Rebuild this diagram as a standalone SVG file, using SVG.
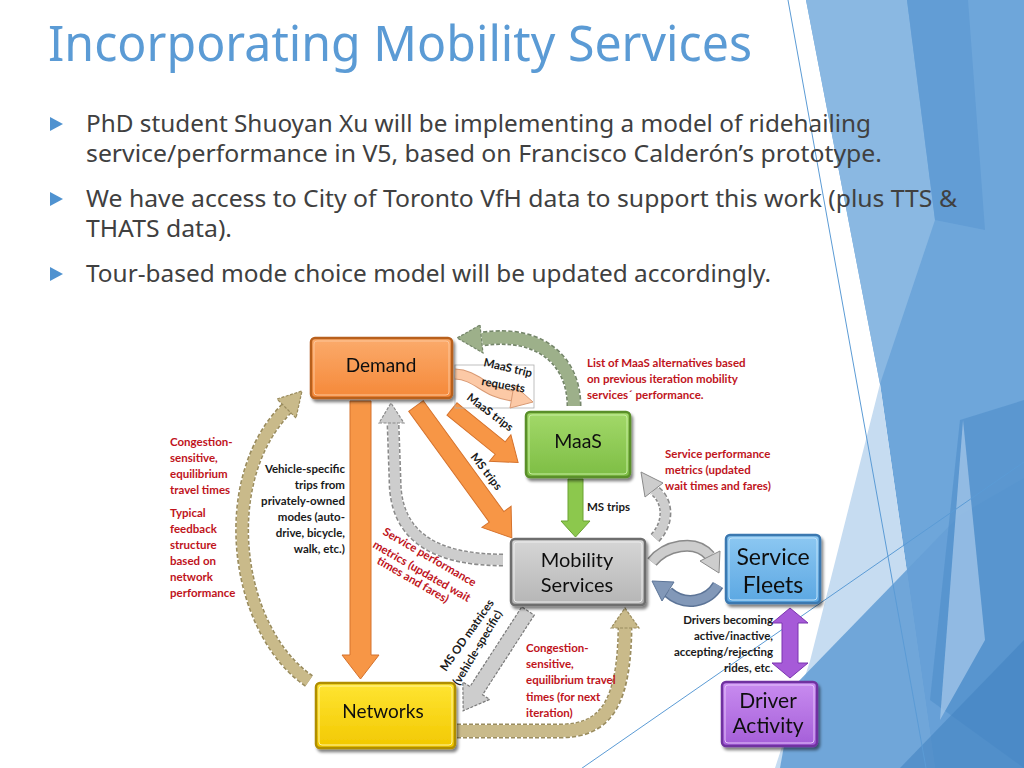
<svg xmlns="http://www.w3.org/2000/svg" width="1024" height="768" viewBox="0 0 1024 768">
<defs>
<style>
.title{font-family:"Noto Sans","Liberation Sans",sans-serif;font-size:50px;fill:#5b9bd5}
.body{font-family:"Noto Sans","Liberation Sans",sans-serif;font-size:23px;fill:#404040}
.box{font-family:Lato,"Liberation Sans",sans-serif;fill:#111;text-anchor:middle}
.lbl{font-family:Lato,"Liberation Sans",sans-serif;font-size:11.5px;font-weight:bold;fill:#1a1a1a}
.red{font-family:Lato,"Liberation Sans",sans-serif;font-size:11.5px;font-weight:bold;fill:#c0141c}
.bullet{fill:#4f92d0}
.thin{stroke:#5b9bd5;stroke-width:1;fill:none}
</style>
<linearGradient id="gOr" x1="0" y1="0" x2="0" y2="1"><stop offset="0" stop-color="#fbab6c"/><stop offset="1" stop-color="#f58838"/></linearGradient>
<linearGradient id="gGr" x1="0" y1="0" x2="0" y2="1"><stop offset="0" stop-color="#a3d96a"/><stop offset="1" stop-color="#7dbd44"/></linearGradient>
<linearGradient id="gGy" x1="0" y1="0" x2="0" y2="1"><stop offset="0" stop-color="#d6d6d6"/><stop offset="1" stop-color="#b5b5b5"/></linearGradient>
<linearGradient id="gBl" x1="0" y1="0" x2="0" y2="1"><stop offset="0" stop-color="#8dc8f2"/><stop offset="1" stop-color="#5ba7e2"/></linearGradient>
<linearGradient id="gYe" x1="0" y1="0" x2="0" y2="1"><stop offset="0" stop-color="#ffe533"/><stop offset="1" stop-color="#f2c800"/></linearGradient>
<linearGradient id="gPu" x1="0" y1="0" x2="0" y2="1"><stop offset="0" stop-color="#c98cf0"/><stop offset="1" stop-color="#a45ed8"/></linearGradient>
<filter id="sh" x="-10%" y="-10%" width="130%" height="140%"><feGaussianBlur in="SourceAlpha" stdDeviation="1.5"/><feOffset dx="2" dy="3"/><feComponentTransfer><feFuncA type="linear" slope="0.5"/></feComponentTransfer><feMerge><feMergeNode/><feMergeNode in="SourceGraphic"/></feMerge></filter>
</defs>

<rect width="1024" height="768" fill="#ffffff"/>

<g id="background">
<polygon points="806,0 1024,0 1024,768 935,768 880,384" fill="#6ea6da"/>
<polygon points="806,0 907,0 935,220 880,384" fill="#8ab8e2"/>
<polygon points="907,0 968,0 985,230 935,220" fill="#629dd5"/>
<polygon points="880,384 935,768 775,768 810,661" fill="#c6dcf1"/>
<polygon points="795,685 960,515 1024,478 1024,768 780,768" fill="#66a0d6" opacity="0.9"/>
<polygon points="960,420 1024,400 1024,768 930,700" fill="#4f8dca" opacity="0.6"/>
<polygon points="963,420 985,640 940,720" fill="#a9cbeb" opacity="0.7"/>
<polygon points="900,768 1024,640 1024,768" fill="#4383c2" opacity="0.6"/>
<line class="thin" x1="788" y1="0" x2="926" y2="768"/>
<line class="thin" x1="575" y1="773" x2="1024" y2="462"/>
</g>

<g id="title">
<text class="title" x="48" y="61" textLength="704" lengthAdjust="spacingAndGlyphs">Incorporating Mobility Services</text>
</g>

<g id="bullets">
<polygon class="bullet" points="50,117 63,124 50,131"/>
<polygon class="bullet" points="50,192 63,199 50,206"/>
<polygon class="bullet" points="50,267 63,274 50,281"/>
<text class="body" x="86" y="132" textLength="785" lengthAdjust="spacingAndGlyphs">PhD student Shuoyan Xu will be implementing a model of ridehailing</text>
<text class="body" x="86" y="162" textLength="796" lengthAdjust="spacingAndGlyphs">service/performance in V5, based on Francisco Calderón’s prototype.</text>
<text class="body" x="86" y="207" textLength="871" lengthAdjust="spacingAndGlyphs">We have access to City of Toronto VfH data to support this work (plus TTS &amp;</text>
<text class="body" x="86" y="237" textLength="146" lengthAdjust="spacingAndGlyphs">THATS data).</text>
<text class="body" x="86" y="282" textLength="685" lengthAdjust="spacingAndGlyphs">Tour-based mode choice model will be updated accordingly.</text>
</g>

<g id="connectors">
<!-- Demand -> Networks (orange vertical) -->
<polygon points="350,401 371,401 371,655 379,655 360.5,679 342,655 350,655" fill="#f79646" stroke="#d5722c" stroke-width="1"/>
<!-- Mobility Services -> Demand (gray curve) -->
<path d="M503 560 C440 560 395 540 395 480 L393 423" fill="none" stroke="#8a8a8a" stroke-width="13" stroke-dasharray="4 2"/>
<path d="M503 560 C440 560 395 540 395 480 L393 423" fill="none" stroke="#cdcdcd" stroke-width="10"/>
<polygon points="379,423 404,423 391,403" fill="#cdcdcd" stroke="#8a8a8a" stroke-width="1.2" stroke-dasharray="3 1.5"/>
<!-- Demand -> Mobility Services (MS trips orange) -->
<polygon transform="translate(416,406) rotate(54)" points="0,-9 137,-9 137,-18 163,0 137,18 137,9 0,9" fill="#f79646" stroke="#d5722c" stroke-width="1"/>
<!-- Demand -> MaaS (MaaS trips orange) -->
<polygon transform="translate(452,409) rotate(39)" points="0,-8 62,-8 62,-17 85,0 62,17 62,8 0,8" fill="#f79646" stroke="#d5722c" stroke-width="1"/>
<!-- MaaS trip requests (peach) -->
<rect x="455" y="365" width="79" height="43" fill="none" stroke="#b0b0b0" stroke-width="0.8"/>
<path d="M455 374 C478 375 484 393 513 396" fill="none" stroke="#d99a74" stroke-width="11"/>
<path d="M455 374 C478 375 484 393 513 396" fill="none" stroke="#fcc9a6" stroke-width="9"/>
<polygon points="514,385 510,408 533,402" fill="#fcc9a6" stroke="#d99a74" stroke-width="1"/>
<!-- MaaS -> Demand (sage curve) -->
<path d="M574 406 C574 365 545 330 482 339" fill="none" stroke="#75866a" stroke-width="15" stroke-dasharray="4 2"/>
<path d="M574 406 C574 365 545 330 482 339" fill="none" stroke="#9db08a" stroke-width="12"/>
<polygon points="480,325 483,353 457,338" fill="#9db08a" stroke="#75866a" stroke-width="1.2" stroke-dasharray="3 1.5"/>
<!-- MaaS -> Mobility Services (green) -->
<polygon points="568,479 583,479 583,521 590,521 575.5,537 561,521 568,521" fill="#8cc84d" stroke="#6aa233" stroke-width="1"/>
<!-- Mobility Services -> MaaS (gray curve right) -->
<path d="M655 538 C670 522 668 500 654 490" fill="none" stroke="#8a8a8a" stroke-width="12" stroke-dasharray="4 2"/>
<path d="M655 538 C670 522 668 500 654 490" fill="none" stroke="#cdcdcd" stroke-width="9"/>
<polygon points="663,483 645,497 641,472" fill="#cdcdcd" stroke="#8a8a8a" stroke-width="1"/>
<!-- Mobility Services -> Service Fleets -->
<path d="M652 562 C665 546 695 538 710 556" fill="none" stroke="#8a8a8a" stroke-width="12"/>
<path d="M652 562 C665 546 695 538 710 556" fill="none" stroke="#cdcdcd" stroke-width="9"/>
<polygon points="720,551 700,561 719,573" fill="#cdcdcd" stroke="#8a8a8a" stroke-width="1"/>
<!-- Service Fleets -> Mobility Services -->
<path d="M718 585 C708 602 685 607 668 592" fill="none" stroke="#5c7497" stroke-width="12"/>
<path d="M718 585 C708 602 685 607 668 592" fill="none" stroke="#8298b8" stroke-width="9"/>
<polygon points="674,582 662,601 652,581" fill="#8298b8" stroke="#5c7497" stroke-width="1"/>
<!-- Mobility Services -> Networks (MS OD gray) -->
<polygon transform="translate(528,611) rotate(123)" points="0,-7.5 95,-7.5 95,-16 119,0 95,16 95,7.5 0,7.5" fill="#cdcdcd" stroke="#7a7a7a" stroke-width="1.2" stroke-dasharray="3 1.5"/>
<!-- Networks -> Mobility Services (tan) -->
<path d="M457 731 L560 731 C605 731 624 705 625 628" fill="none" stroke="#9a8c5e" stroke-width="15" stroke-dasharray="4 2"/>
<path d="M457 731 L560 731 C605 731 624 705 625 628" fill="none" stroke="#c9ba8a" stroke-width="12"/>
<polygon points="611,628 639,628 625,608" fill="#c9ba8a" stroke="#9a8c5e" stroke-width="1.2" stroke-dasharray="3 1.5"/>
<!-- Networks -> Demand (tan big arc) -->
<path d="M309 681 C235 630 215 480 287 408" fill="none" stroke="#9a8c5e" stroke-width="14" stroke-dasharray="4 2"/>
<path d="M309 681 C235 630 215 480 287 408" fill="none" stroke="#c9ba8a" stroke-width="11"/>
<polygon points="296,418 277,399 302,391" fill="#c9ba8a" stroke="#9a8c5e" stroke-width="1.2" stroke-dasharray="3 1.5"/>
<!-- Service Fleets <-> Driver Activity (purple) -->
<polygon points="790,608 808,623 798,623 798,663 808,663 790,678 772,663 782,663 782,623 772,623" fill="#a65ad8" stroke="#7b34b0" stroke-width="1"/>
</g>

<g id="node-demand" filter="url(#sh)">
<rect x="311" y="338" width="141" height="60" rx="4" fill="url(#gOr)" stroke="#b8601f" stroke-width="2.5"/>
<rect x="314" y="341" width="135" height="54" rx="3" fill="none" stroke="#fdc69a" stroke-width="1"/>
<text class="box" x="381" y="372" font-size="19">Demand</text>
</g>
<g id="node-maas" filter="url(#sh)">
<rect x="526" y="412" width="104" height="65" rx="4" fill="url(#gGr)" stroke="#5a8f2b" stroke-width="2.5"/>
<rect x="529" y="415" width="98" height="59" rx="3" fill="none" stroke="#c7eea0" stroke-width="1"/>
<text class="box" x="578" y="448" font-size="19.5">MaaS</text>
</g>
<g id="node-mobility" filter="url(#sh)">
<rect x="511" y="539" width="134" height="66" rx="4" fill="url(#gGy)" stroke="#6e6e6e" stroke-width="2.5"/>
<rect x="514" y="542" width="128" height="60" rx="3" fill="none" stroke="#ededed" stroke-width="1"/>
<text class="box" x="577" y="567" font-size="20">Mobility</text>
<text class="box" x="577" y="592" font-size="20">Services</text>
</g>
<g id="node-fleets" filter="url(#sh)">
<rect x="726" y="535" width="94" height="68" rx="4" fill="url(#gBl)" stroke="#3a78b0" stroke-width="2.5"/>
<rect x="729" y="538" width="88" height="62" rx="3" fill="none" stroke="#c0e2fa" stroke-width="1"/>
<text class="box" x="773" y="565" font-size="23">Service</text>
<text class="box" x="773" y="593" font-size="23">Fleets</text>
</g>
<g id="node-networks" filter="url(#sh)">
<rect x="316" y="683" width="139" height="65" rx="4" fill="url(#gYe)" stroke="#b08e00" stroke-width="2.5"/>
<rect x="319" y="686" width="133" height="59" rx="3" fill="none" stroke="#fff3a0" stroke-width="1"/>
<text class="box" x="383" y="718" font-size="19">Networks</text>
</g>
<g id="node-driver" filter="url(#sh)">
<rect x="722" y="682" width="95" height="64" rx="4" fill="url(#gPu)" stroke="#7030a0" stroke-width="2.5"/>
<rect x="725" y="685" width="89" height="58" rx="3" fill="none" stroke="#e4c4fa" stroke-width="1"/>
<text class="box" x="768" y="708" font-size="21">Driver</text>
<text class="box" x="768" y="733" font-size="21">Activity</text>
</g>

<g id="labels">
<text class="lbl" transform="translate(483,366) rotate(13)">MaaS trip</text>
<text class="lbl" transform="translate(481,385) rotate(10)">requests</text>
<text class="lbl" transform="translate(466,399) rotate(37)">MaaS trips</text>
<text class="lbl" transform="translate(470,457) rotate(52)">MS trips</text>
<text class="lbl" x="587" y="511">MS trips</text>
<text class="red" x="587" y="367">List of MaaS alternatives based</text>
<text class="red" x="587" y="383">on previous iteration mobility</text>
<text class="red" x="587" y="399">services´ performance.</text>
<text class="red" x="665" y="458">Service performance</text>
<text class="red" x="665" y="474">metrics (updated</text>
<text class="red" x="665" y="490">wait times and fares)</text>
<text class="red" x="170" y="446">Congestion-</text>
<text class="red" x="170" y="462">sensitive,</text>
<text class="red" x="170" y="478">equilibrium</text>
<text class="red" x="170" y="494">travel times</text>
<text class="red" x="170" y="517">Typical</text>
<text class="red" x="170" y="533">feedback</text>
<text class="red" x="170" y="549">structure</text>
<text class="red" x="170" y="565">based on</text>
<text class="red" x="170" y="581">network</text>
<text class="red" x="170" y="597">performance</text>
<g text-anchor="end">
<text class="lbl" x="345" y="473">Vehicle-specific</text>
<text class="lbl" x="345" y="489">trips from</text>
<text class="lbl" x="345" y="505">privately-owned</text>
<text class="lbl" x="345" y="521">modes (auto-</text>
<text class="lbl" x="345" y="537">drive, bicycle,</text>
<text class="lbl" x="345" y="553">walk, etc.)</text>
</g>
<text class="red" transform="translate(382,534) rotate(30)">Service performance</text>
<text class="red" transform="translate(372,547) rotate(30)">metrics (updated wait</text>
<text class="red" transform="translate(376,563) rotate(30)">times and fares)</text>
<text class="lbl" transform="translate(446,672) rotate(-55)">MS OD matrices</text>
<text class="lbl" transform="translate(459,686) rotate(-59)">(vehicle-specific)</text>
<text class="red" x="526" y="652">Congestion-</text>
<text class="red" x="526" y="668">sensitive,</text>
<text class="red" x="526" y="684">equilibrium travel</text>
<text class="red" x="526" y="701">times (for next</text>
<text class="red" x="526" y="717">iteration)</text>
<g text-anchor="end">
<text class="lbl" x="773" y="624">Drivers becoming</text>
<text class="lbl" x="773" y="640">active/inactive,</text>
<text class="lbl" x="773" y="656">accepting/rejecting</text>
<text class="lbl" x="773" y="672">rides, etc.</text>
</g>
</g>
</svg>
